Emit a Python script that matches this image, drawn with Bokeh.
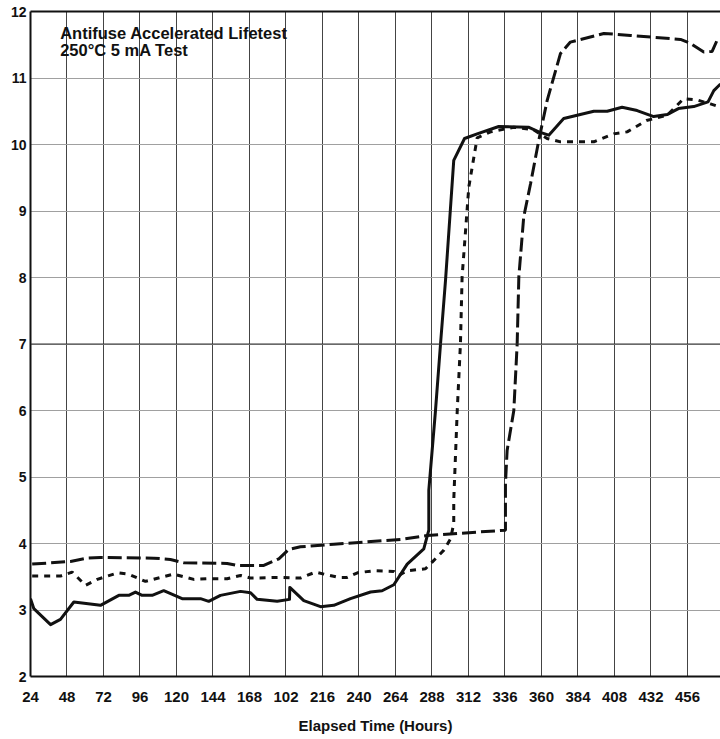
from bokeh.plotting import figure
from bokeh.models import Label, Span, LinearAxis, FixedTicker, Range1d
from bokeh.embed import file_html
from bokeh.resources import INLINE

# ---- data ----
x_ticks = [24, 48, 72, 96, 120, 144, 168, 192, 216, 240, 264, 288, 312, 336, 360, 384, 408, 432, 456]
x_tick_labels = ["24", "48", "72", "96", "120", "144", "168", "102", "216", "240", "264",
                 "288", "312", "336", "360", "384", "408", "432", "456"]
y_ticks = [2, 3, 4, 5, 6, 7, 8, 9, 10, 11, 12]

solid_x = [24, 26.2, 37.2, 43.7, 52.5, 70, 82.1, 88.6, 93, 97.4, 104, 111.6, 123.7, 135.8, 141.2,
           148.9, 162.1, 168.7, 173, 186.2, 194.3, 194.5, 203.7, 214.7, 223.4, 234.4, 247.6, 255.2,
           262.9, 271.7, 282.6, 285.9, 285.9, 290.3, 293.6, 296.9, 302.3, 309.4, 317.7, 331.9,
           351.4, 358.2, 364.8, 374.6, 394.4, 403.2, 413, 422.9, 433.8, 442.6, 450, 460.1, 469.5,
           473.3, 477.7]
solid_y = [3.17, 3.02, 2.78, 2.86, 3.12, 3.07, 3.22, 3.22, 3.27, 3.22, 3.22, 3.29, 3.17, 3.17, 3.13,
           3.22, 3.28, 3.26, 3.16, 3.13, 3.16, 3.34, 3.14, 3.05, 3.07, 3.17, 3.27, 3.29,
           3.38, 3.69, 3.92, 4.20, 4.80, 6.00, 7.00, 7.96, 9.76, 10.09, 10.16, 10.27,
           10.26, 10.19, 10.14, 10.39, 10.50, 10.50, 10.56, 10.51, 10.42, 10.45, 10.54, 10.57, 10.64,
           10.81, 10.91]

longdash_x = [25.1, 50.3, 61.3, 70, 105.1, 116, 124.8, 153.3, 159.9, 177.4, 187.3, 193.8, 201.5,
              223.4, 267.3, 284.8, 336.3, 336.3, 337.4, 341.8, 344, 345.1, 348.3, 352.8, 358.2,
              363.7, 372.5, 379, 401, 418.5, 451.4, 458, 466.7, 472.2, 475.5, 477.7]
longdash_y = [3.69, 3.73, 3.78, 3.79, 3.78, 3.76, 3.71, 3.70, 3.67, 3.67, 3.77, 3.91, 3.95,
              3.99, 4.06, 4.12, 4.20, 4.90, 5.40, 6.00, 7.00, 8.01, 8.91, 9.41, 10.06,
              10.66, 11.37, 11.54, 11.67, 11.64, 11.58, 11.52, 11.39, 11.40, 11.57, 11.59]

shortdash_x = [25.1, 43.7, 51.4, 60.2, 67.9, 81.5, 88.4, 99.6, 109.5, 118.2, 131.4, 140.2, 153.3,
               162.1, 168.7, 188.4, 201.5, 211.4, 216.9, 226.5, 232.2, 239, 249.7, 262.9, 266.2,
               271.7, 283.7, 288.1, 295.8, 300.2, 302.3, 302.3, 304.6, 306.7, 307.8, 312.2, 317.7,
               326.5, 341.8, 354.9, 363.7, 372.5, 394.4, 407.5, 416.3, 429, 442.6, 453.5, 462.4,
               471.1, 477.7]
shortdash_y = [3.51, 3.51, 3.57, 3.37, 3.46, 3.56, 3.54, 3.43, 3.49, 3.54, 3.46, 3.47, 3.47,
               3.52, 3.48, 3.49, 3.48, 3.57, 3.54, 3.49, 3.49, 3.56, 3.59, 3.58, 3.52,
               3.59, 3.62, 3.72, 3.90, 4.07, 4.30, 4.65, 6.00, 7.00, 8.01, 9.36, 10.10,
               10.19, 10.26, 10.22, 10.09, 10.04, 10.04, 10.16, 10.19, 10.36, 10.44, 10.69, 10.67,
               10.61, 10.56]

title_lines = ["Antifuse Accelerated Lifetest", "250\u00b0C 5 mA Test"]
x_label = "Elapsed Time (Hours)"

FONT = "Liberation Sans"
INK = "#111111"

p = figure(width=720, height=739, x_range=Range1d(24, 477.7), y_range=Range1d(2, 12),
           output_backend="svg", toolbar_location=None,
           min_border_left=30, min_border_right=0, min_border_top=11, min_border_bottom=63)
p.outline_line_color = None
p.background_fill_color = "white"
p.border_fill_color = "white"

# x axis
xa = p.xaxis[0]
xa.ticker = FixedTicker(ticks=x_ticks)
xa.major_label_overrides = {t: l for t, l in zip(x_ticks, x_tick_labels)}
xa.axis_line_color = INK
xa.axis_line_width = 2
xa.major_tick_line_color = None
xa.minor_tick_line_color = None
xa.major_tick_out = 0
xa.major_tick_in = 0
xa.major_label_standoff = 15
xa.major_label_text_font = FONT
xa.major_label_text_font_size = "15px"
xa.major_label_text_font_style = "bold"
xa.major_label_text_color = INK
xa.axis_label = x_label
xa.axis_label_text_font = FONT
xa.axis_label_text_font_size = "15px"
xa.axis_label_text_font_style = "bold"
xa.axis_label_text_color = INK
xa.axis_label_standoff = 12

# y axis
ya = p.yaxis[0]
ya.ticker = FixedTicker(ticks=y_ticks)
ya.axis_line_color = INK
ya.axis_line_width = 2
ya.major_tick_line_color = None
ya.minor_tick_line_color = None
ya.major_tick_out = 0
ya.major_tick_in = 0
ya.major_label_standoff = 4
ya.major_label_text_font = FONT
ya.major_label_text_font_size = "14px"
ya.major_label_text_font_style = "bold"
ya.major_label_text_color = INK

# top border line
top = LinearAxis(ticker=FixedTicker(ticks=[]), axis_line_width=2, axis_line_color=INK,
                 major_tick_line_color=None, minor_tick_line_color=None,
                 major_tick_out=0, major_tick_in=0, major_label_text_font_size="0px")
p.add_layout(top, "above")

# grids
p.xgrid.ticker = FixedTicker(ticks=x_ticks)
p.xgrid.grid_line_color = "#444444"
p.xgrid.grid_line_width = 1
p.ygrid.ticker = FixedTicker(ticks=y_ticks)
p.ygrid.grid_line_color = "#a0a0a0"
p.ygrid.grid_line_width = 1
p.add_layout(Span(location=7, dimension="width", line_color="#333333", line_width=1))

# series
p.line(solid_x, solid_y, line_color=INK, line_width=3, line_join="round")
p.line(longdash_x, longdash_y, line_color=INK, line_width=3, line_dash="14 5")
p.line(shortdash_x, shortdash_y, line_color=INK, line_width=3, line_dash="6 6")

# in-plot title (data units)
p.add_layout(Label(x=43.5, y=11.81, text=title_lines[0],
                   text_font=FONT, text_font_size="16.5px", text_font_style="bold",
                   text_color=INK, text_baseline="top", text_align="left"))
p.add_layout(Label(x=43.5, y=11.56, text=title_lines[1],
                   text_font=FONT, text_font_size="16.5px", text_font_style="bold",
                   text_color=INK, text_baseline="top", text_align="left"))

open("out.html", "w").write(file_html(p, INLINE))
